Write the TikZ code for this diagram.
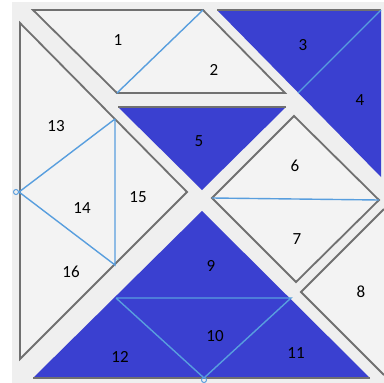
\documentclass[tikz,border=0pt]{standalone}
\usepackage{fontspec}
\setmainfont{Carlito}
\begin{document}
\begin{tikzpicture}[x=1pt,y=-1pt,
  piece/.style={draw=edgegray,line width=1.8pt,line join=miter,fill=piecegray},
  bluepiece/.style={fill=tanblue},
  edge/.style={draw=edgegray,line width=1.8pt},
  cut/.style={draw=cutblue,line width=1.4pt},
  lbl/.style={font=\fontsize{17}{20}\selectfont,text=black,inner sep=0pt},
  dot/.style={circle,draw=cutblue,line width=1pt,minimum size=5pt,inner sep=0pt}]
\definecolor{edgegray}{RGB}{112,112,112}
\definecolor{piecegray}{RGB}{243,243,243}
\definecolor{bggray}{RGB}{239,239,239}
\definecolor{tanblue}{RGB}{58,64,208}
\definecolor{cutblue}{RGB}{88,158,222}
\useasboundingbox (0,0) rectangle (384,383);
\fill[white] (0,0) rectangle (384,383);
\fill[bggray] (12,2) rectangle (384,383);
% pieces 1,2 (parallelogram)
\coordinate (p1a) at (33,10); \coordinate (p1b) at (203,10);
\coordinate (p1c) at (285,93); \coordinate (p1d) at (117,93);
\draw[piece] (p1a) -- (p1b) -- (p1c) -- (p1d) -- cycle;
\draw[cut] (p1d) -- (p1b);
% pieces 3,4
\coordinate (p3a) at (217,10); \coordinate (p3b) at (381,10);
\coordinate (p3c) at (381,177); \coordinate (p3m) at (298,93);
\fill[bluepiece] (p3a) -- (p3b) -- (p3c) -- cycle;
\draw[edge] (p3a) -- (p3b);
\draw[cut] (p3m) -- (p3b);
% piece 5
\coordinate (p5a) at (118,107); \coordinate (p5b) at (286,107); \coordinate (p5c) at (202,190);
\fill[bluepiece] (p5a) -- (p5b) -- (p5c) -- cycle;
\draw[edge] (p5a) -- (p5b);
% pieces 6,7 (square)
\coordinate (p6t) at (294,116); \coordinate (p6l) at (212,198);
\coordinate (p6r) at (379,200); \coordinate (p6b) at (296,282);
\draw[piece] (p6t) -- (p6r) -- (p6b) -- (p6l) -- cycle;
\draw[cut] (p6l) -- (p6r);
% piece 8
\coordinate (p8a) at (301,292); \coordinate (p8b) at (384,209); \coordinate (p8c) at (384,375);
\draw[piece] (p8b) -- (p8a) -- (p8c);
% pieces 9-12
\coordinate (p9t) at (202,211); \coordinate (p9l) at (33,378); \coordinate (p9r) at (370,378);
\coordinate (p9ml) at (116,298); \coordinate (p9mr) at (291,298); \coordinate (p9mb) at (204,378);
\fill[bluepiece] (p9t) -- (p9r) -- (p9l) -- cycle;
\draw[edge] (p9l) -- (p9r);
\draw[cut] (p9ml) -- (p9mr) -- (p9mb) -- (p9ml);
\node[dot] (d2) at (204,380) {};
% pieces 13-16
\coordinate (q1) at (20,23); \coordinate (q2) at (20,359); \coordinate (q3) at (187,192);
\coordinate (q4) at (115,119); \coordinate (q5) at (115,265);
\draw[piece] (q1) -- (q3) -- (q2) -- cycle;
\node[dot] (d1) at (16,192) {};
\draw[cut] (q4) -- (d1.east) -- (q5) -- (q4);
% labels
\node[lbl] (l1) at (118,40) {1};
\node[lbl] (l2) at (214,70) {2};
\node[lbl] (l3) at (303,45) {3};
\node[lbl] (l4) at (360,100) {4};
\node[lbl] (l5) at (199,141) {5};
\node[lbl] (l6) at (295,166) {6};
\node[lbl] (l7) at (297,239) {7};
\node[lbl] (l8) at (361,292) {8};
\node[lbl] (l9) at (211,266) {9};
\node[lbl] (l10) at (215,336) {10};
\node[lbl] (l11) at (296,353) {11};
\node[lbl] (l12) at (120,357) {12};
\node[lbl] (l13) at (56,126) {13};
\node[lbl] (l14) at (82,208) {14};
\node[lbl] (l15) at (138,197) {15};
\node[lbl] (l16) at (71,272) {16};
\end{tikzpicture}
\end{document}
